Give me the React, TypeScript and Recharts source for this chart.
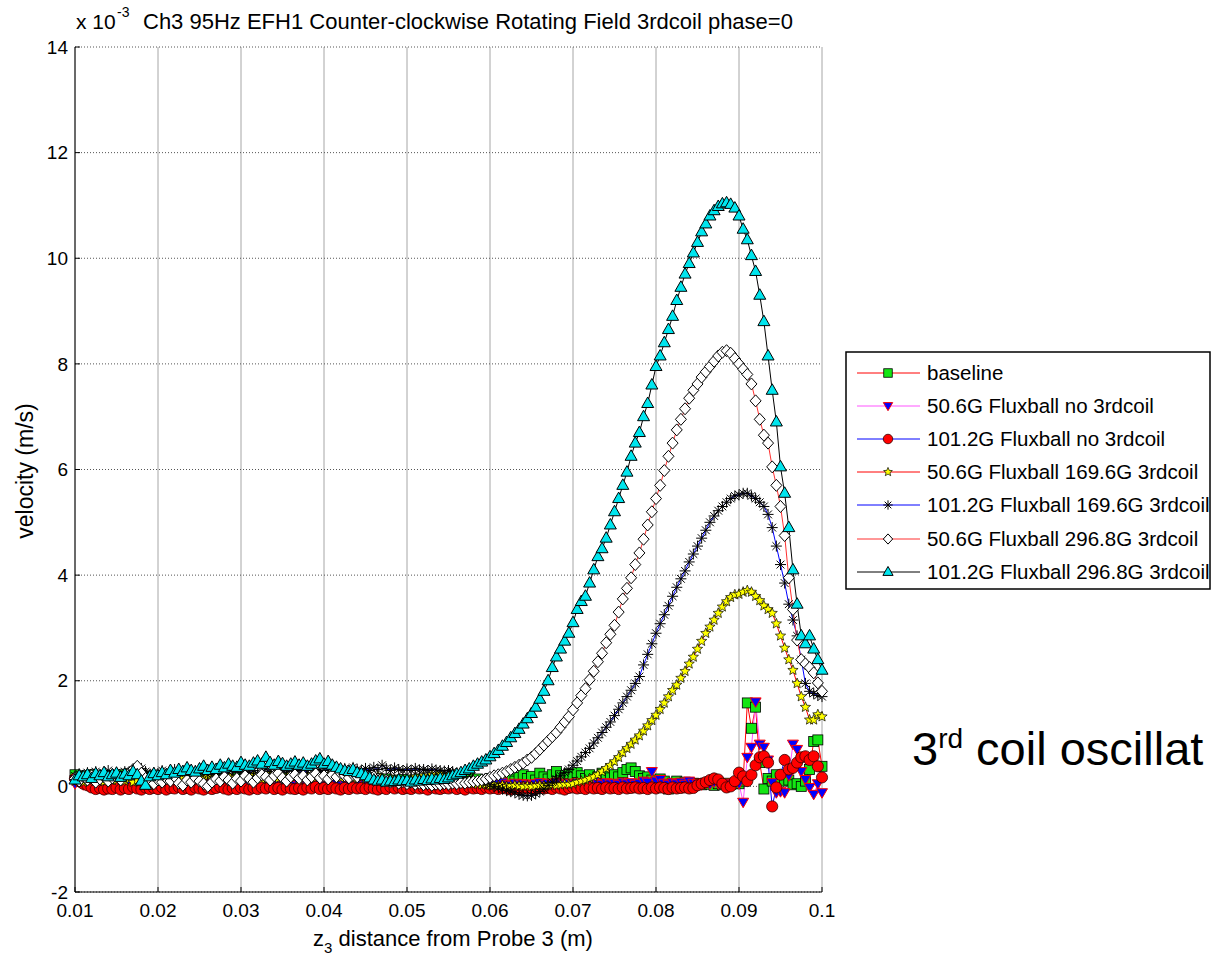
import React from "react";
import { LineChart, Line, XAxis, YAxis, CartesianGrid } from "recharts";

// probe positions (m)
const xPos = [
  0.01, 0.0105, 0.011, 0.0115, 0.012, 0.0125, 0.013, 0.0135, 0.014, 0.0145,
  0.015, 0.0155, 0.016, 0.0165, 0.017, 0.0175, 0.018, 0.0185, 0.019, 0.0195,
  0.02, 0.0205, 0.021, 0.0215, 0.022, 0.0225, 0.023, 0.0235, 0.024, 0.0245,
  0.025, 0.0255, 0.026, 0.0265, 0.027, 0.0275, 0.028, 0.0285, 0.029, 0.0295,
  0.03, 0.0305, 0.031, 0.0315, 0.032, 0.0325, 0.033, 0.0335, 0.034, 0.0345,
  0.035, 0.0355, 0.036, 0.0365, 0.037, 0.0375, 0.038, 0.0385, 0.039, 0.0395,
  0.04, 0.0405, 0.041, 0.0415, 0.042, 0.0425, 0.043, 0.0435, 0.044, 0.0445,
  0.045, 0.0455, 0.046, 0.0465, 0.047, 0.0475, 0.048, 0.0485, 0.049, 0.0495,
  0.05, 0.0505, 0.051, 0.0515, 0.052, 0.0525, 0.053, 0.0535, 0.054, 0.0545,
  0.055, 0.0555, 0.056, 0.0565, 0.057, 0.0575, 0.058, 0.0585, 0.059, 0.0595,
  0.06, 0.0605, 0.061, 0.0615, 0.062, 0.0625, 0.063, 0.0635, 0.064, 0.0645,
  0.065, 0.0655, 0.066, 0.0665, 0.067, 0.0675, 0.068, 0.0685, 0.069, 0.0695,
  0.07, 0.0705, 0.071, 0.0715, 0.072, 0.0725, 0.073, 0.0735, 0.074, 0.0745,
  0.075, 0.0755, 0.076, 0.0765, 0.077, 0.0775, 0.078, 0.0785, 0.079, 0.0795,
  0.08, 0.0805, 0.081, 0.0815, 0.082, 0.0825, 0.083, 0.0835, 0.084, 0.0845,
  0.085, 0.0855, 0.086, 0.0865, 0.087, 0.0875, 0.088, 0.0885, 0.089, 0.0895,
  0.09, 0.0905, 0.091, 0.0915, 0.092, 0.0925, 0.093, 0.0935, 0.094, 0.0945,
  0.095, 0.0955, 0.096, 0.0965, 0.097, 0.0975, 0.098, 0.0985, 0.099, 0.0995,
  0.1,
];

// velocities in units of 1e-3 m/s
const baseline = [
  0.22, 0.18, 0.2, 0.15, 0.22, 0.19, 0.16, 0.21, 0.18, 0.2,
  0.17, 0.22, 0.19, 0.24, 0.2, 0.18, 0.22, 0.16, 0.2, 0.18,
  0.15, 0.19, 0.13, 0.17, 0.21, 0.15, 0.12, 0.18, 0.14, 0.16,
  0.12, 0.16, 0.1, 0.14, 0.18, 0.11, 0.15, 0.09, 0.13, 0.16,
  0.1, 0.14, 0.12, 0.16, 0.09, 0.13, 0.17, 0.11, 0.14, 0.1,
  0.13, 0.16, 0.11, 0.15, 0.09, 0.12, 0.16, 0.1, 0.14, 0.12,
  0.15, 0.11, 0.14, 0.09, 0.13, 0.16, 0.1, 0.12, 0.15, 0.11,
  0.13, 0.09, 0.12, 0.15, 0.1, 0.14, 0.08, 0.12, 0.1, 0.13,
  0.09, 0.12, 0.1, 0.14, 0.08, 0.11, 0.13, 0.09, 0.12, 0.1,
  0.14, 0.1, 0.13, 0.08, 0.12, 0.16, 0.1, 0.14, 0.09, 0.12,
  0.15, 0.1, 0.18, 0.12, 0.2, 0.14, 0.1, 0.17, 0.22, 0.15,
  0.19, 0.12, 0.25, 0.18, 0.14, 0.22, 0.28, 0.2, 0.15, 0.24,
  0.18, 0.26, 0.2, 0.15, 0.22, 0.12, 0.18, 0.25, 0.2, 0.16,
  0.22, 0.18, 0.26, 0.32, 0.35, 0.28, 0.2, 0.15, 0.18, 0.12,
  0.08, 0.14, 0.1, -0.05, 0.06, 0.1, 0.05, 0.08, 0.04, 0.06,
  0.05, 0.03, 0.06, 0.04, 0.02, 0.05, 0.03, 0.06, 0.04, 0.05,
  0.05, 0.1, 1.58, 1.1, 1.5, 0.45, -0.05, 0.15, 0.1, 0.22,
  0.15, 0.1, 0.12, 0.03, 0.05, 0.0, 0.1, 0.32, 0.85, 0.88,
  0.38,
];

const flux506NoCoil = [
  0.05, 0.08, 0.03, 0.06, 0.02, 0.05, 0.07, 0.03, 0.06, 0.04,
  0.03, 0.06, 0.02, 0.05, 0.08, 0.04, 0.02, 0.06, 0.03, 0.05,
  0.02, 0.04, 0.07, 0.03, 0.05, 0.01, 0.04, 0.06, 0.02, 0.05,
  0.03, 0.06, 0.02, 0.04, 0.07, 0.03, 0.05, 0.02, 0.04, 0.06,
  0.02, 0.05, 0.03, 0.06, 0.04, 0.02, 0.05, 0.07, 0.03, 0.04,
  0.06, 0.03, 0.05, 0.02, 0.04, 0.07, 0.03, 0.05, 0.02, 0.04,
  0.05, 0.02, 0.04, 0.06, 0.03, 0.05, 0.02, 0.04, 0.07, 0.03,
  0.04, 0.06, 0.02, 0.05, 0.03, 0.06, 0.04, 0.02, 0.05, 0.03,
  0.05, 0.02, 0.04, 0.06, 0.03, 0.05, 0.02, 0.04, 0.06, 0.03,
  0.04, 0.02, 0.05, 0.03, 0.06, 0.04, 0.02, 0.05, 0.03, 0.04,
  0.06, 0.03, 0.05, 0.08, 0.04, 0.02, 0.06, 0.03, 0.05, 0.04,
  0.02, 0.05, 0.07, 0.03, 0.06, 0.04, 0.08, 0.05, 0.03, 0.06,
  0.04, 0.07, 0.05, 0.03, 0.06, 0.09, 0.05, 0.04, 0.07, 0.05,
  0.06, 0.04, 0.08, 0.05, 0.07, 0.04, 0.06, 0.1, 0.08, 0.28,
  0.1, 0.13, 0.06, 0.04, 0.07, 0.05, 0.08, 0.04, 0.1, 0.06,
  0.05, 0.03, 0.06, 0.04, 0.08, 0.05, 0.03, 0.06, 0.04, 0.07,
  0.05, -0.3, 0.55, 0.74, 1.6, 0.8, 0.74, 0.5, 0.07, -0.12,
  -0.1, -0.12, 0.2, 0.8, 0.7, 0.28, 0.13, -0.02, -0.15, 0.05,
  -0.12,
];

const flux1012NoCoil = [
  0.15, 0.1, 0.05, 0.02, -0.02, -0.05, -0.03, -0.06, -0.04, -0.05,
  -0.02, -0.06, -0.03, -0.05, -0.01, -0.04, -0.06, -0.02, -0.05, -0.03,
  -0.05, -0.02, -0.06, -0.03, -0.04, -0.01, -0.05, -0.03, -0.06, -0.02,
  -0.04, -0.06, -0.02, -0.05, -0.03, -0.01, -0.04, -0.06, -0.03, -0.05,
  -0.02, -0.04, -0.06, -0.03, -0.05, -0.02, -0.04, -0.01, -0.05, -0.03,
  -0.06, -0.02, -0.04, -0.05, -0.03, -0.06, -0.02, -0.04, -0.01, -0.05,
  -0.03, -0.05, -0.02, -0.04, -0.06, -0.03, -0.05, -0.02, -0.04, -0.03,
  -0.05, -0.02, -0.04, -0.06, -0.03, -0.05, -0.01, -0.04, -0.02, -0.05,
  -0.03, -0.05, -0.02, -0.04, -0.03, -0.06, -0.02, -0.04, -0.05, -0.03,
  -0.04, -0.02, -0.05, -0.03, -0.06, -0.02, -0.04, -0.03, -0.05, -0.02,
  -0.04, -0.03, -0.05, -0.02, -0.04, -0.06, -0.03, -0.05, -0.02, -0.04,
  -0.03, -0.05, -0.02, -0.04, -0.03, -0.05, -0.02, -0.04, -0.06, -0.03,
  -0.02, -0.04, -0.03, -0.05, -0.02, -0.04, -0.03, -0.05, -0.02, -0.04,
  -0.03, -0.05, -0.02, -0.04, -0.03, -0.02, -0.04, -0.03, -0.05, -0.02,
  -0.04, -0.02, -0.03, -0.05, -0.02, -0.04, -0.03, -0.02, -0.04, -0.03,
  0.02, 0.05, 0.08, 0.12, 0.15, 0.13, 0.05, -0.02, 0.0, 0.1,
  0.26, 0.19, 0.1, 0.22, 0.4, 0.55, 0.57, 0.45, -0.38, -0.02,
  0.22, 0.5, 0.32, 0.35, 0.45, 0.55, 0.57, 0.5, 0.57, 0.38,
  0.17,
];

const flux506Coil1696 = [
  0.1, 0.14, 0.08, 0.12, 0.16, 0.1, 0.13, 0.09, 0.15, 0.11,
  0.12, 0.16, 0.1, 0.14, 0.08, 0.12, 0.15, 0.1, 0.13, 0.09,
  0.12, 0.15, 0.1, 0.14, 0.18, 0.12, 0.16, 0.11, 0.14, 0.18,
  0.13, 0.16, 0.2, 0.14, 0.18, 0.12, 0.16, 0.2, 0.15, 0.18,
  0.14, 0.2, 0.16, 0.22, 0.18, 0.14, 0.2, 0.24, 0.18, 0.15,
  0.2, 0.16, 0.22, 0.18, 0.14, 0.2, 0.17, 0.22, 0.16, 0.2,
  0.22, 0.18, 0.24, 0.2, 0.16, 0.22, 0.18, 0.15, 0.2, 0.17,
  0.14, 0.18, 0.15, 0.2, 0.16, 0.12, 0.16, 0.13, 0.1, 0.14,
  0.12, 0.15, 0.18, 0.14, 0.2, 0.16, 0.22, 0.18, 0.24, 0.2,
  0.22, 0.25, 0.2, 0.15, 0.1, 0.08, 0.05, 0.04, 0.03, 0.04,
  0.02, 0.03, 0.01, 0.02, 0.0, 0.01, 0.02, 0.01, 0.0, 0.01,
  0.0, 0.01, 0.02, 0.01, 0.02, 0.03, 0.02, 0.03, 0.04, 0.04,
  0.05, 0.08, 0.1, 0.12, 0.15, 0.18, 0.22, 0.28, 0.34, 0.4,
  0.47, 0.55, 0.64, 0.72, 0.8, 0.88, 0.96, 1.05, 1.15, 1.25,
  1.35, 1.46, 1.58, 1.7, 1.82, 1.92, 2.05, 2.18, 2.32, 2.45,
  2.6, 2.75, 2.9, 3.02, 3.15, 3.28, 3.4, 3.5, 3.58, 3.63,
  3.64, 3.68, 3.71, 3.68, 3.6, 3.52, 3.42, 3.35, 3.28, 3.08,
  2.85, 2.62, 2.4, 2.2, 1.95, 1.7, 1.5, 1.26, 1.26, 1.36,
  1.32,
];

const flux1012Coil1696 = [
  0.2, 0.24, 0.18, 0.26, 0.22, 0.28, 0.2, 0.25, 0.3, 0.22,
  0.26, 0.2, 0.28, 0.24, 0.3, 0.26, 0.34, 0.28, 0.22, 0.26,
  0.24, 0.3, 0.22, 0.27, 0.32, 0.25, 0.28, 0.22, 0.26, 0.3,
  0.24, 0.28, 0.22, 0.3, 0.26, 0.2, 0.24, 0.28, 0.32, 0.26,
  0.22, 0.28, 0.25, 0.3, 0.24, 0.27, 0.33, 0.28, 0.24, 0.3,
  0.26, 0.32, 0.28, 0.34, 0.3, 0.26, 0.3, 0.36, 0.32, 0.28,
  0.3, 0.34, 0.38, 0.32, 0.28, 0.34, 0.3, 0.36, 0.32, 0.3,
  0.34, 0.3, 0.36, 0.32, 0.4, 0.34, 0.3, 0.35, 0.32, 0.3,
  0.33, 0.3, 0.34, 0.31, 0.32, 0.3, 0.33, 0.31, 0.3, 0.29,
  0.3, 0.28, 0.25, 0.22, 0.18, 0.15, 0.12, 0.1, 0.08, 0.05,
  0.03, 0.0, -0.03, -0.05, -0.08, -0.1, -0.12, -0.15, -0.17, -0.18,
  -0.17, -0.14, -0.1, -0.05, 0.02, 0.08, 0.14, 0.2, 0.26, 0.32,
  0.4, 0.48, 0.56, 0.64, 0.72, 0.82, 0.92, 1.02, 1.12, 1.22,
  1.34, 1.46, 1.58, 1.7, 1.82, 1.95, 2.08, 2.3, 2.5, 2.7,
  2.9, 3.08, 3.25, 3.42, 3.6, 3.77, 3.93, 4.08, 4.25, 4.4,
  4.55, 4.7, 4.85, 5.0, 5.12, 5.22, 5.3, 5.38, 5.45, 5.5,
  5.52, 5.55, 5.55, 5.5, 5.45, 5.38, 5.3, 5.15, 4.9, 4.55,
  4.2, 3.85, 3.45, 3.15, 2.85, 2.4, 1.95, 1.8, 1.76, 1.72,
  1.7,
];

const flux506Coil2968 = [
  0.15, 0.1, 0.18, 0.12, 0.2, 0.08, 0.14, 0.18, 0.1, 0.16,
  0.22, 0.12, 0.2, 0.26, 0.32, 0.38, 0.25, 0.15, 0.1, 0.05,
  0.12, 0.08, 0.15, 0.1, 0.18, 0.06, 0.02, 0.12, 0.08, 0.16,
  0.1, 0.05, 0.0, 0.08, 0.14, 0.1, 0.18, 0.12, 0.06, 0.15,
  0.1, 0.2, 0.14, 0.08, 0.16, 0.22, 0.18, 0.12, 0.2, 0.25,
  0.16, 0.1, 0.18, 0.22, 0.15, 0.2, 0.12, 0.18, 0.24, 0.16,
  0.2, 0.14, 0.22, 0.18, 0.25, 0.2, 0.16, 0.22, 0.18, 0.24,
  0.2, 0.15, 0.18, 0.14, 0.1, 0.12, 0.08, 0.1, 0.06, 0.09,
  0.05, 0.08, 0.04, 0.06, 0.03, 0.05, 0.02, 0.04, 0.03, 0.05,
  0.04, 0.06, 0.05, 0.07, 0.06, 0.08, 0.09, 0.1, 0.12, 0.14,
  0.17, 0.2, 0.22, 0.25, 0.28, 0.32, 0.36, 0.4, 0.44, 0.5,
  0.55, 0.62, 0.7, 0.78, 0.86, 0.94, 1.02, 1.12, 1.22, 1.32,
  1.45, 1.58, 1.72, 1.85, 2.02, 2.18, 2.36, 2.52, 2.72, 2.88,
  3.05, 3.3, 3.55, 3.75, 3.95, 4.2, 4.42, 4.68, 4.95, 5.2,
  5.45, 5.7, 5.98, 6.25, 6.5, 6.75, 6.95, 7.15, 7.35, 7.5,
  7.62, 7.75, 7.85, 7.95, 8.05, 8.15, 8.22, 8.25, 8.2, 8.1,
  8.0, 7.9, 7.8, 7.62, 7.3, 6.95, 6.65, 6.5, 6.05, 5.7,
  5.3, 4.75, 3.95, 3.35, 2.77, 2.4, 2.32, 2.25, 2.15, 1.96,
  1.8,
];

const flux1012Coil2968 = [
  0.12, 0.2, 0.18, 0.22, 0.15, 0.24, 0.2, 0.26, 0.18, 0.22,
  0.25, 0.17, 0.23, 0.2, 0.28, 0.22, 0.1, 0.02, 0.18, 0.24,
  0.2, 0.26, 0.22, 0.3, 0.25, 0.32, 0.28, 0.35, 0.3, 0.27,
  0.33, 0.38, 0.3, 0.36, 0.32, 0.4, 0.35, 0.42, 0.38, 0.36,
  0.45, 0.4, 0.38, 0.44, 0.48, 0.42, 0.55, 0.45, 0.4, 0.47,
  0.43, 0.38, 0.42, 0.46, 0.4, 0.44, 0.38, 0.42, 0.48, 0.52,
  0.42, 0.47, 0.4, 0.36, 0.33, 0.3, 0.28, 0.32, 0.26, 0.24,
  0.2, 0.16, 0.12, 0.1, 0.12, 0.08, 0.1, 0.09, 0.12, 0.1,
  0.11, 0.08, 0.12, 0.1, 0.13, 0.11, 0.14, 0.12, 0.15, 0.13,
  0.16, 0.2, 0.23, 0.26, 0.3, 0.33, 0.38, 0.42, 0.46, 0.5,
  0.56, 0.62, 0.68, 0.76, 0.83, 0.92, 1.0, 1.08, 1.18, 1.28,
  1.38, 1.5, 1.65, 1.8, 2.0, 2.25, 2.45, 2.6, 2.75, 2.9,
  3.1, 3.35, 3.5, 3.6, 3.85, 4.1, 4.35, 4.5, 4.7, 4.95,
  5.2, 5.45, 5.7, 5.95, 6.25, 6.5, 6.7, 7.0, 7.25, 7.6,
  7.95, 8.15, 8.4, 8.65, 8.9, 9.2, 9.45, 9.7, 9.9, 10.1,
  10.3, 10.5, 10.65, 10.8, 10.9, 10.98, 11.03, 11.05, 11.02, 10.95,
  10.8, 10.55, 10.35, 10.05, 9.75, 9.3, 8.8, 8.15, 7.5, 6.9,
  6.05, 5.55, 4.9, 4.1, 3.45, 2.85, 2.7, 2.85, 2.6, 2.4,
  2.2,
];

const xTicks = [0.01, 0.02, 0.03, 0.04, 0.05, 0.06, 0.07, 0.08, 0.09, 0.1];
const yTicks = [-2, 0, 2, 4, 6, 8, 10, 12, 14];

const seriesNames = [
  "baseline",
  "50.6G Fluxball no 3rdcoil",
  "101.2G Fluxball no 3rdcoil",
  "50.6G Fluxball 169.6G 3rdcoil",
  "101.2G Fluxball 169.6G 3rdcoil",
  "50.6G Fluxball 296.8G 3rdcoil",
  "101.2G Fluxball 296.8G 3rdcoil",
];
const seriesValues = [
  baseline,
  flux506NoCoil,
  flux1012NoCoil,
  flux506Coil1696,
  flux1012Coil1696,
  flux506Coil2968,
  flux1012Coil2968,
];
const lineColors = ["#ff0000", "#ff55ff", "#0000ff", "#ff0000", "#0000ff", "#ff3030", "#000000"];

type Kind = "square" | "tridown" | "circle" | "star" | "asterisk" | "diamond" | "triup";
const markerKinds: Kind[] = ["square", "tridown", "circle", "star", "asterisk", "diamond", "triup"];

const FONT = '"Liberation Sans", Arial, Helvetica, sans-serif';

const chartData = xPos.map((x, i) => {
  const row: Record<string, number> = { x };
  seriesValues.forEach((vals, s) => {
    row[`s${s}`] = vals[i];
  });
  return row;
});

function starPoints(cx: number, cy: number, ro: number, ri: number) {
  const pts: string[] = [];
  for (let k = 0; k < 10; k++) {
    const a = ((-90 + k * 36) * Math.PI) / 180;
    const r = k % 2 === 0 ? ro : ri;
    pts.push(`${cx + r * Math.cos(a)},${cy + r * Math.sin(a)}`);
  }
  return pts.join(" ");
}

// s = marker scale (1 in the plot, smaller in the legend)
function renderMarker(kind: Kind, cx: number, cy: number, s = 1) {
  switch (kind) {
    case "square": {
      const h = 5 * s;
      return <rect x={cx - h} y={cy - h} width={2 * h} height={2 * h} fill="#14e614" stroke="#000" strokeWidth={0.8} />;
    }
    case "tridown": {
      const w = 5.5 * s;
      return (
        <polygon
          points={`${cx - w},${cy - 4 * s} ${cx + w},${cy - 4 * s} ${cx},${cy + 5.5 * s}`}
          fill="#0000ff"
          stroke="#ff0000"
          strokeWidth={1}
        />
      );
    }
    case "circle":
      return <circle cx={cx} cy={cy} r={5.6 * s} fill="#ff0000" stroke="#300" strokeWidth={0.8} />;
    case "star":
      return <polygon points={starPoints(cx, cy, 5.4 * s, 2.4 * s)} fill="#ffff00" stroke="#000" strokeWidth={0.7} />;
    case "asterisk": {
      const r = 5.5 * s;
      const d = 3.9 * s;
      return (
        <g stroke="#000" strokeWidth={1}>
          <line x1={cx - r} y1={cy} x2={cx + r} y2={cy} />
          <line x1={cx} y1={cy - r} x2={cx} y2={cy + r} />
          <line x1={cx - d} y1={cy - d} x2={cx + d} y2={cy + d} />
          <line x1={cx - d} y1={cy + d} x2={cx + d} y2={cy - d} />
        </g>
      );
    }
    case "diamond":
      return (
        <polygon
          points={`${cx},${cy - 6 * s} ${cx + 5.5 * s},${cy} ${cx},${cy + 6 * s} ${cx - 5.5 * s},${cy}`}
          fill="#ffffff"
          stroke="#000"
          strokeWidth={1}
        />
      );
    case "triup":
      return (
        <polygon
          points={`${cx},${cy - 6.5 * s} ${cx + 6 * s},${cy + 4 * s} ${cx - 6 * s},${cy + 4 * s}`}
          fill="#00e5ee"
          stroke="#000"
          strokeWidth={1}
        />
      );
  }
}

const makeDot = (kind: Kind) => (props: any) => {
  const { cx, cy, index } = props;
  if (cx == null || cy == null) return <g key={`${kind}-${index}`} />;
  return <g key={`${kind}-${index}`}>{renderMarker(kind, cx, cy)}</g>;
};

const tickStyle = { fill: "#000", fontSize: 19, fontFamily: FONT };

function Overlay() {
  const rowY = [373, 406, 439, 472, 505, 539, 572];
  return (
    <svg
      width={1211}
      height={961}
      style={{ position: "absolute", left: 0, top: 0, pointerEvents: "none" }}
      fontFamily={FONT}
    >
      {/* exponent and title */}
      <text x={76} y={29} fontSize={21} fill="#000">
        x 10
      </text>
      <text x={117} y={17} fontSize={14} fill="#000">
        -3
      </text>
      <text x={143} y={29} fontSize={22} fill="#000">
        Ch3 95Hz EFH1 Counter-clockwise Rotating Field 3rdcoil phase=0
      </text>

      {/* axis labels */}
      <text x={453} y={946} fontSize={22} textAnchor="middle" fill="#000">
        z<tspan fontSize={15} dy={7}>3</tspan>
        <tspan dy={-7}> distance from Probe 3 (m)</tspan>
      </text>
      <text x={33} y={471} fontSize={23} textAnchor="middle" fill="#000" transform="rotate(-90 33 471)">
        velocity (m/s)
      </text>

      {/* legend */}
      <rect x={846} y={352} width={364} height={237} fill="#fff" stroke="#000" strokeWidth={1.5} />
      {seriesNames.map((name, i) => (
        <g key={name}>
          <line x1={857} x2={920} y1={rowY[i]} y2={rowY[i]} stroke={lineColors[i]} strokeWidth={1} />
          {renderMarker(markerKinds[i], 888, rowY[i], 0.85)}
          <text x={927} y={rowY[i] + 7} fontSize={20.5} fill="#000">
            {name}
          </text>
        </g>
      ))}

      {/* side note */}
      <text x={912} y={765} fontSize={47} fill="#000">
        3<tspan fontSize={28} dy={-17}>rd</tspan>
        <tspan fontSize={47} dy={17}> coil oscillat</tspan>
      </text>
    </svg>
  );
}

export default function App() {
  return (
    <div
      style={{
        position: "absolute",
        left: 0,
        top: 0,
        width: 1211,
        height: 961,
        background: "#fff",
        overflow: "hidden",
      }}
    >
      <LineChart
        width={1211}
        height={961}
        data={chartData}
        margin={{ top: 47, right: 389, bottom: 39, left: 0 }}
      >
        <CartesianGrid horizontal={false} stroke="#a6a6a6" />
        <CartesianGrid vertical={false} stroke="#555" strokeDasharray="1 2" />
        <XAxis
          dataKey="x"
          type="number"
          domain={[0.01, 0.1]}
          ticks={xTicks}
          interval={0}
          tickFormatter={(v: number) => String(v)}
          height={30}
          tickSize={-5}
          tickMargin={17}
          stroke="#000"
          tick={tickStyle}
        />
        <XAxis
          xAxisId="top"
          orientation="top"
          type="number"
          domain={[0.01, 0.1]}
          ticks={xTicks}
          interval={0}
          height={0}
          tick={false}
          tickSize={-5}
          stroke="#000"
        />
        <YAxis
          type="number"
          domain={[-2, 14]}
          ticks={yTicks}
          interval={0}
          width={75}
          tickSize={-5}
          tickMargin={12}
          stroke="#000"
          tick={tickStyle}
        />
        <YAxis
          yAxisId="right"
          orientation="right"
          type="number"
          domain={[-2, 14]}
          ticks={yTicks}
          interval={0}
          width={0}
          tick={false}
          tickSize={-5}
          stroke="#000"
        />
        {seriesNames.map((name, i) => (
          <Line
            key={name}
            name={name}
            dataKey={`s${i}`}
            type="linear"
            stroke={lineColors[i]}
            strokeWidth={1}
            dot={makeDot(markerKinds[i])}
            activeDot={false}
            isAnimationActive={false}
          />
        ))}
      </LineChart>
      <Overlay />
    </div>
  );
}
